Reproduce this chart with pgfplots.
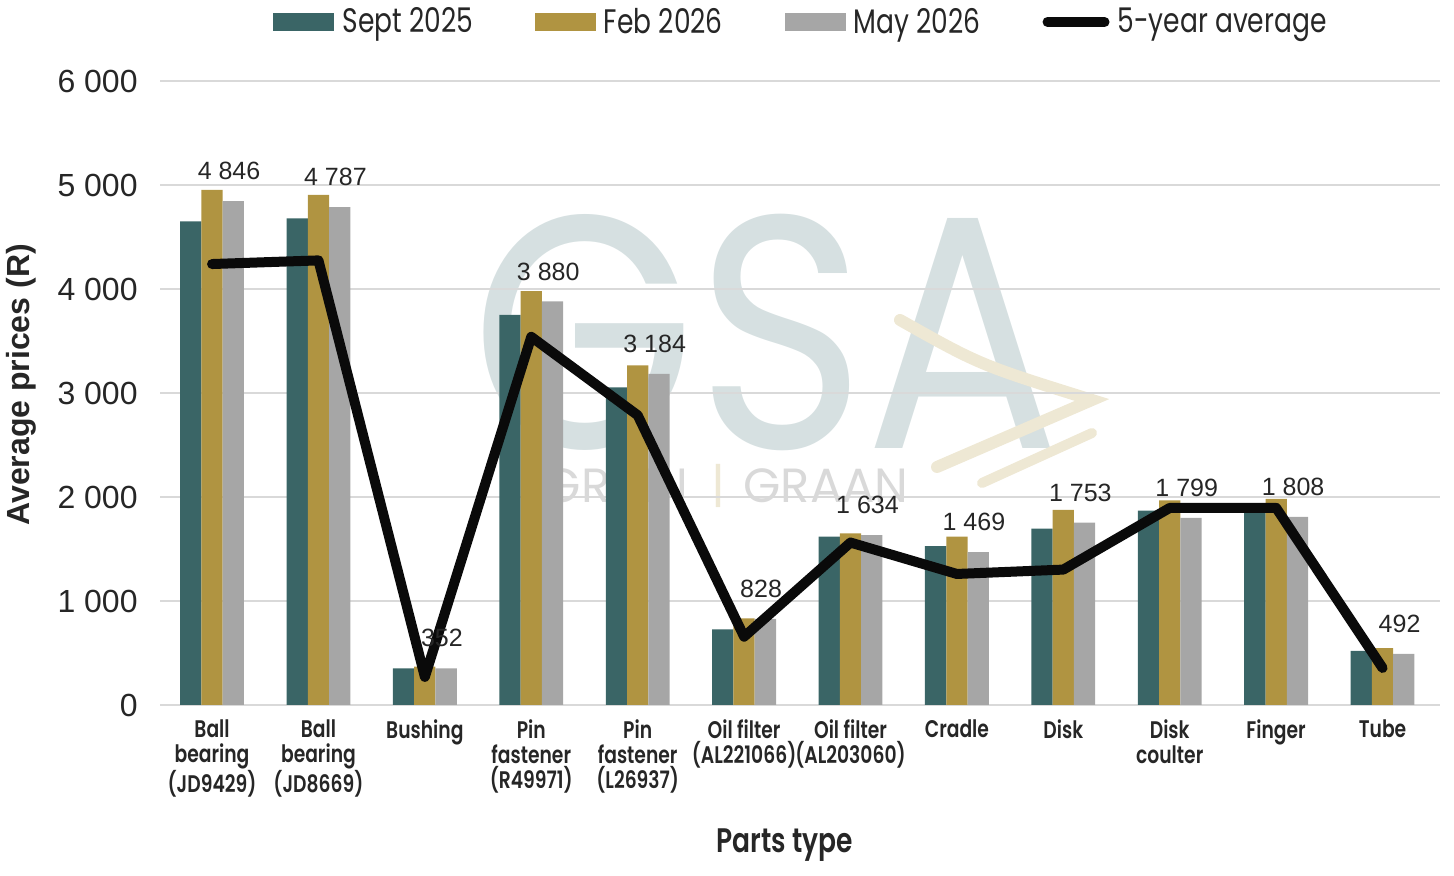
\documentclass[border=0pt]{standalone}
\usepackage{fontspec}
\setmainfont{Liberation Sans}
\newfontfamily\gothic[FakeStretch=0.78, BoldFont={Poppins SemiBold}]{Poppins}
\newfontfamily\gsafont{Poppins}
\usepackage{pgfplots}
\pgfplotsset{compat=1.18}
\definecolor{sept}{HTML}{3A6566}
\definecolor{feb}{HTML}{B09441}
\definecolor{may}{HTML}{A6A6A6}
\definecolor{gridc}{HTML}{D9D9D9}
\definecolor{wm}{HTML}{D6E0E1}
\definecolor{beige}{HTML}{EEE8D4}
\definecolor{linec}{HTML}{0A0A0A}
\begin{document}
\begin{tikzpicture}
\useasboundingbox (-80pt,-85.5pt) rectangle (647pt,352.5pt);
% watermark
\node[anchor=base, text=wm, xscale=0.87, inner sep=0pt, font=\gsafont\fontsize{166}{166}\selectfont] at (303pt,128pt) {GSA};
\node[anchor=base, text=gridc, inner sep=0pt, font=\gsafont\fontsize{24}{24}\selectfont] at (228pt,101pt) {GRAIN};
\node[anchor=base, text=beige, inner sep=0pt, font=\gsafont\fontsize{24}{24}\selectfont] at (279pt,101pt) {|};
\node[anchor=base, text=gridc, inner sep=0pt, font=\gsafont\fontsize{24}{24}\selectfont] at (333pt,101pt) {GRAAN};
\draw[beige, line width=6pt, line cap=round] (370pt,192.5pt) .. controls (410pt,170pt) .. (466pt,152.5pt) -- (388.5pt,119pt);
\draw[beige, line width=5pt, line cap=round] (466pt,136pt) -- (411pt,111pt);
\begin{axis}[
  at={(0,0)}, anchor=south west,
  scale only axis, width=640pt, height=312pt,
  xmin=-0.489, xmax=11.54, ymin=0, ymax=6000,
  ytick={0,1000,2000,3000,4000,5000,6000},
  xtick={0,1,2,3,4,5,6,7,8,9,10,11},
  xticklabels={{Ball\\bearing\\(JD9429)},{Ball\\bearing\\(JD8669)},{Bushing},{Pin\\fastener\\(R49971)},{Pin\\fastener\\(L26937)},{Oil filter\\(AL221066)},{Oil filter\\(AL203060)},{Cradle},{Disk},{Disk\\coulter},{Finger},{Tube}},
  xticklabel style={font=\gothic\bfseries\fontsize{12}{12.5}\selectfont, align=center, anchor=north, inner sep=0pt, yshift=-7pt, text=black!85},
  yticklabel style={font=\fontsize{16}{19}\selectfont, anchor=east, inner sep=0pt, xshift=-11pt, text=black!85},
  /pgf/number format/1000 sep={\ },
  /pgf/number format/assume math mode=true,
  scaled y ticks=false,
  ymajorgrids, grid style={color=gridc, line width=1.2pt},
  axis line style={draw=none}, major tick length=0pt,
  ylabel={Average prices (R)},
  ylabel style={font=\bfseries\fontsize{16}{19}\selectfont, at={(axis description cs:-0.108,0.513)}, anchor=center, text=black!85},
  xlabel={Parts type},
  xlabel style={font=\gothic\bfseries\fontsize{17}{20}\selectfont, at={(axis description cs:0.488,-0.224)}, anchor=center, text=black!85},
  legend columns=4,
  legend style={at={(axis description cs:0.5,1.0946)}, anchor=center, draw=none, fill=none,
    font=\gothic\fontsize{17}{20}\selectfont, text=black!85,
    /tikz/every odd column/.append style={column sep=4pt},
    /tikz/every even column/.append style={column sep=31pt},
    nodes={inner sep=0pt}},
]
\addplot[ybar, bar width=0.2, bar shift=-0.2, fill=sept, draw=none,
  legend image code/.code={\fill[sept] (0pt,-4.5pt) rectangle (30.5pt,4.5pt);}]
  coordinates {(0,4650) (1,4680) (2,352) (3,3750) (4,3053) (5,727) (6,1619) (7,1527) (8,1695) (9,1870) (10,1890) (11,521)};
\addlegendentry{Sept 2025}
\addplot[ybar, bar width=0.2, bar shift=0, fill=feb, draw=none,
  legend image code/.code={\fill[feb] (0pt,-4.5pt) rectangle (30.5pt,4.5pt);}]
  coordinates {(0,4954) (1,4906) (2,370) (3,3979) (4,3265) (5,832) (6,1651) (7,1619) (8,1876) (9,1968) (10,1981) (11,546)};
\addlegendentry{Feb 2026}
\addplot[ybar, bar width=0.2, bar shift=0.2, fill=may, draw=none,
  legend image code/.code={\fill[may] (0pt,-4.5pt) rectangle (30.5pt,4.5pt);},
  nodes near coords,
  nodes near coords style={font=\fontsize{12.5}{15}\selectfont, anchor=center, yshift=15pt, xshift=8.5pt, text=black!85}]
  coordinates {(0,4846) (1,4787) (2,352) (3,3880) (4,3184) (5,828) (6,1634) (7,1469) (8,1753) (9,1799) (10,1808) (11,492)};
\addlegendentry{May 2026}
\addplot[linec, line width=5pt, line join=round, line cap=round, mark=none,
  legend image code/.code={\draw[linec, line width=5pt, line cap=round] (2.5pt,0pt) -- (31pt,0pt);}]
  coordinates {(0,4240) (1,4275) (2,270) (3,3540) (4,2786) (5,657) (6,1562) (7,1260) (8,1302) (9,1895) (10,1895) (11,356)};
\addlegendentry{5-year average}
\end{axis}
\end{tikzpicture}
\end{document}
